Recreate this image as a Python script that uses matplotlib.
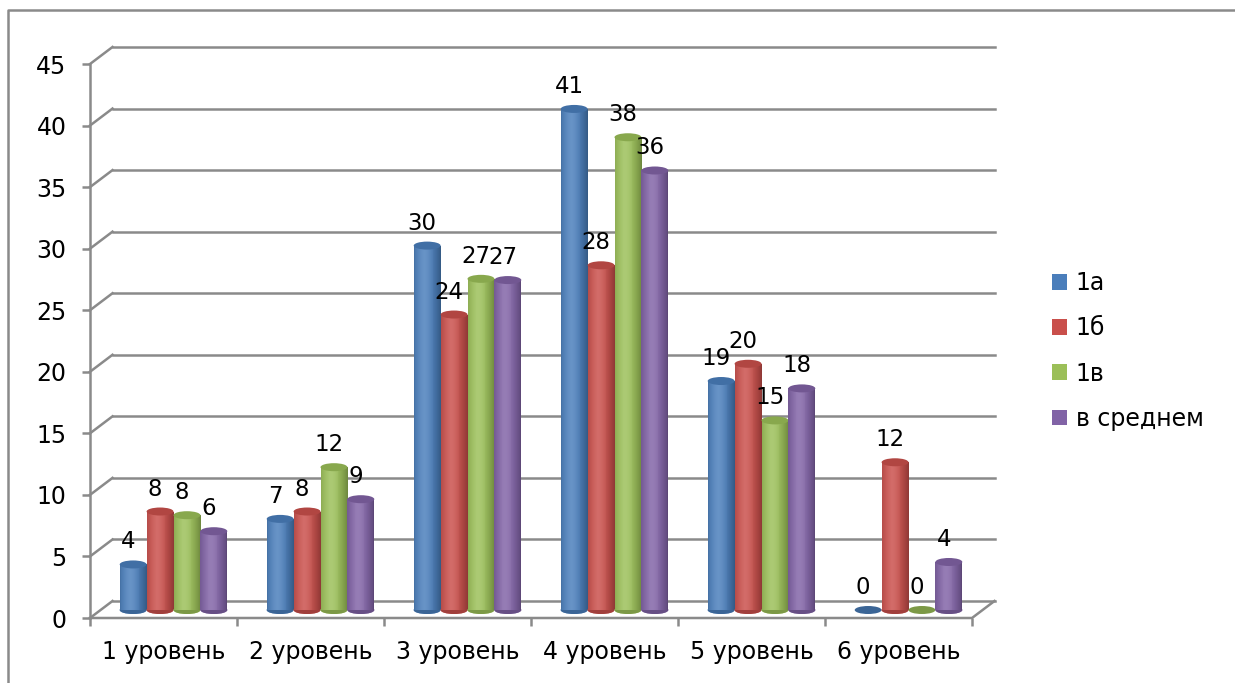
import numpy as np
import matplotlib
matplotlib.use("Agg")
import matplotlib.pyplot as plt
from matplotlib.patches import Rectangle, Ellipse, Patch
from matplotlib.lines import Line2D
from matplotlib.colors import to_rgb

categories = ["1 уровень", "2 уровень", "3 уровень", "4 уровень", "5 уровень", "6 уровень"]
series_names = ["1а", "1б", "1в", "в среднем"]
vals_1a = [3.7, 7.4, 29.6, 40.7, 18.6, 0]
vals_1b = [8.0, 8.0, 24.0, 28.0, 20.0, 12.0]
vals_1v = [7.7, 11.6, 26.9, 38.4, 15.4, 0]
vals_avg = [6.4, 9.0, 26.8, 35.7, 18.0, 3.9]
colors = ["#4a7ebb", "#c94f4b", "#9bbf58", "#8163a6"]
yticks = list(range(0, 50, 5))

W, H = 1235, 683
fig = plt.figure(figsize=(W / 100, H / 100), dpi=100)
# front plane of the fake 3D box, in pixels
left, right, bottom, top = 90, 972, 618, 64
ax = fig.add_axes([left / W, 1 - bottom / H, (right - left) / W, (bottom - top) / H])
ax.set_xlim(-0.5, 5.5)
ax.set_ylim(0, 45)

ppx = (right - left) / 6.0
ppy = (bottom - top) / 45.0
# depth offset of the back wall and of the bars (pixels -> data units)
DX, DY = 22.5 / ppx, 17 / ppy
BX, BY = 10 / ppx, 8 / ppy

grey = "#8a8a8a"
lw = 1.8
fs = 17

# back wall gridlines and side wall diagonals
for v in yticks:
    ax.plot([-0.5 + DX, 5.5 + DX], [v + DY, v + DY], color=grey, lw=lw, clip_on=False, zorder=1)
    ax.plot([-0.5, -0.5 + DX], [v, v + DY], color=grey, lw=lw, clip_on=False, zorder=1)
# floor
ax.plot([-0.5, 5.5, 5.5 + DX], [0, 0, DY], color=grey, lw=lw, clip_on=False, zorder=1)
ax.plot([-0.5, -0.5], [0, 45], color=grey, lw=lw, clip_on=False, zorder=1)

for s in ax.spines.values():
    s.set_visible(False)
ax.set_yticks(yticks)
ax.set_yticklabels([str(v) for v in yticks], fontsize=fs)
ax.set_xticks(np.arange(-0.5, 6, 1))
ax.set_xticklabels([])
ax.set_xticks(range(6), minor=True)
ax.set_xticklabels(categories, minor=True, fontsize=fs)
ax.tick_params(axis="y", length=6, width=lw, color=grey, pad=11)
ax.tick_params(axis="x", which="major", length=6, width=lw, color=grey, direction="out")
ax.tick_params(axis="x", which="minor", length=0, pad=16)


def shade(c, t):
    base = np.array(to_rgb(c))
    hl = 0.16 * np.exp(-((t - 0.4) / 0.28) ** 2)
    dk = 1 - 0.30 * ((t - 0.4) / 0.6) ** 2
    col = base * dk
    col = col + (1 - col) * hl
    return np.clip(col, 0, 1)


w = 0.183
eh = 8 / ppy
nstrip = 30
all_vals = [vals_1a, vals_1b, vals_1v, vals_avg]
for s, (vals, col) in enumerate(zip(all_vals, colors)):
    base = np.array(to_rgb(col))
    for i, v in enumerate(vals):
        x0 = i - 2 * w + s * w + BX
        xc = x0 + w / 2
        z = 3 + i * 0.1 + s * 0.01
        ax.add_patch(Ellipse((xc, BY), w, eh, color=base * 0.8, lw=0, zorder=z, clip_on=False))
        if v > 0:
            for k in range(nstrip):
                t = (k + 0.5) / nstrip
                ax.add_patch(Rectangle((x0 + k * w / nstrip, BY), w / nstrip * 1.15, v,
                                       color=shade(col, t), lw=0, zorder=z, clip_on=False))
            ax.add_patch(Ellipse((xc, BY), w, eh, color=shade(col, 0.5), lw=0, zorder=z - 0.001,
                                 clip_on=False))
            ax.add_patch(Ellipse((xc, BY + v), w, eh, color=base * 0.88, lw=0, zorder=z + 0.001,
                                 clip_on=False))
        ax.annotate(f"{v:.0f}", xy=(i - 2 * w + s * w + w / 2, v), xytext=(5, 24),
                    textcoords="offset pixels", ha="center", va="baseline",
                    fontsize=16.5, zorder=10, annotation_clip=False)

handles = [Patch(facecolor=c, edgecolor="none") for c in colors]
fig.legend(handles, series_names, loc="center left", bbox_to_anchor=(1052 / W, 1 - 351 / H),
           frameon=False, fontsize=fs, handlelength=0.65, handleheight=0.65,
           handletextpad=0.35, labelspacing=0.9, borderpad=0, borderaxespad=0)

# outer chart border
fig.add_artist(Line2D([8 / W, 8 / W, 1.02], [-0.02, 1 - 10 / H, 1 - 10 / H], color=grey, lw=1.8,
                      transform=fig.transFigure))

fig.savefig("out.png", dpi=100)
